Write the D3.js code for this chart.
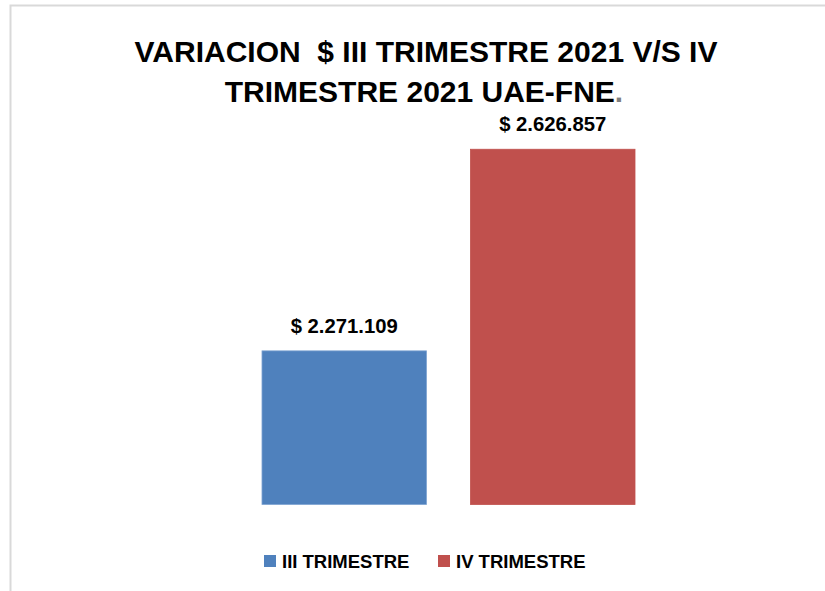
<!DOCTYPE html>
<html>
<head>
<meta charset="utf-8">
<script src="https://cdn.jsdelivr.net/npm/d3@7"></script>
<style>
  body { margin: 0; background: #fff; }
  svg { display: block; }
  text { font-family: 'Liberation Sans', Arial, sans-serif; font-weight: bold; fill: #000; }
</style>
</head>
<body>
<script>
// datos del grafico
var series = ['III TRIMESTRE', 'IV TRIMESTRE'];
var valores = [2271109, 2626857];
var etiquetas = ['$ 2.271.109', '$ 2.626.857'];
var colores = ['#4F81BD', '#C0504D'];
var bordes = ['#7ea3d1', '#C0504D'];
var tituloLinea1 = 'VARIACION  $ III TRIMESTRE 2021 V/S IV';
var tituloLinea2 = 'TRIMESTRE 2021 UAE-FNE';

var WIDTH = 825;
var HEIGHT = 591;

var svg = d3.select('body')
  .append('svg')
  .attr('width', WIDTH)
  .attr('height', HEIGHT);

// marco del area del grafico
svg.append('rect')
  .attr('x', 10.5)
  .attr('y', 5.5)
  .attr('width', 900)
  .attr('height', 700)
  .attr('fill', '#fff')
  .attr('stroke', '#d9d9d9')
  .attr('stroke-width', 2);

var x = d3.scaleBand()
  .domain(series)
  .range([218, 679])
  .padding(0.211);

var y = d3.scaleLinear()
  .domain([2000000, 2700000])
  .range([504.5, 107.8]);

// titulo
var titulo = svg.append('text')
  .attr('text-anchor', 'middle')
  .style('font-size', '30px')
  .style('white-space', 'pre');

titulo.append('tspan')
  .attr('x', 426)
  .attr('y', 62)
  .text(tituloLinea1);

titulo.append('tspan')
  .attr('x', 424)
  .attr('y', 102)
  .text(tituloLinea2);

titulo.append('tspan')
  .style('fill', '#7f7f7f')
  .text('.');

// barras
svg.selectAll('rect.barra')
  .data(valores)
  .enter()
  .append('rect')
  .attr('class', 'barra')
  .attr('x', function(d, i){ return x(series[i]); })
  .attr('width', x.bandwidth())
  .attr('y', function(d){ return y(d); })
  .attr('height', function(d){ return y(2000000) - y(d); })
  .attr('fill', function(d, i){ return colores[i]; })
  .attr('stroke', function(d, i){ return bordes[i]; })
  .attr('stroke-width', 0.8);

// etiquetas de valor
svg.selectAll('text.valor')
  .data(valores)
  .enter()
  .append('text')
  .attr('class', 'valor')
  .attr('text-anchor', 'middle')
  .attr('x', function(d, i){ return x(series[i]) + x.bandwidth() / 2; })
  .attr('y', function(d){ return y(d) - 18; })
  .style('font-size', '20.3px')
  .text(function(d, i){ return etiquetas[i]; });

// leyenda
var leyX = [264, 438];
var leyenda = svg.selectAll('g.leyenda')
  .data(series)
  .enter()
  .append('g')
  .attr('class', 'leyenda')
  .attr('transform', function(d, i){ return 'translate(' + leyX[i] + ',555)'; });

leyenda.append('rect')
  .attr('width', 12)
  .attr('height', 12)
  .attr('fill', function(d, i){ return colores[i]; });

leyenda.append('text')
  .attr('x', 18)
  .attr('y', 12.5)
  .style('font-size', '18.5px')
  .text(function(d){ return d; });
</script>
</body>
</html>
